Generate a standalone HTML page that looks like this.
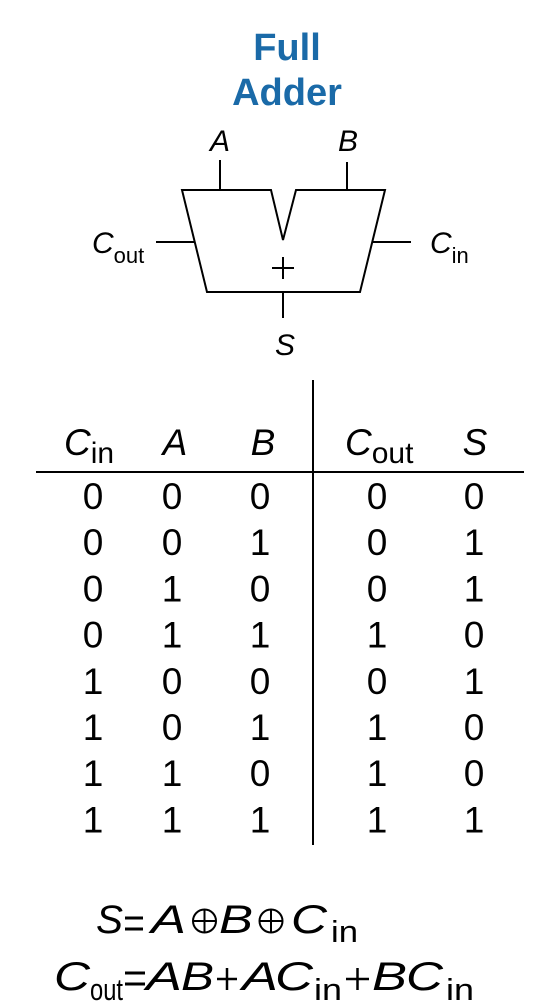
<!DOCTYPE html>
<html><head><meta charset="utf-8"><style>
html,body{margin:0;padding:0;background:#fff;}
svg{display:block;font-family:"Liberation Sans",Arial,sans-serif;}
</style></head><body>
<svg width="546" height="1008" viewBox="0 0 546 1008">
<g fill="#1a6aa8" font-weight="bold" font-size="38" text-anchor="middle">
<text x="287" y="60">Full</text><text x="287" y="105">Adder</text></g>
<g stroke="#000" stroke-width="2" fill="none">
<path d="M182,190 L271,190 L283,240 L296,190 L385,190 L360,292 L207,292 Z"/>
<line x1="220" y1="160" x2="220" y2="190"/><line x1="347" y1="162" x2="347" y2="190"/>
<line x1="156" y1="242" x2="194" y2="242"/><line x1="373" y1="242" x2="411" y2="242"/>
<line x1="283" y1="292" x2="283" y2="318"/>
<line x1="272" y1="268" x2="294" y2="268"/><line x1="283" y1="257" x2="283" y2="279"/></g>
<g font-size="30" font-style="italic">
<text x="220" y="151" text-anchor="middle">A</text><text x="348" y="151" text-anchor="middle">B</text>
<text x="285" y="355" text-anchor="middle">S</text>
<text x="92" y="253">C<tspan font-style="normal" font-size="22" dy="10">out</tspan></text>
<text x="430" y="253">C<tspan font-style="normal" font-size="22" dy="10">in</tspan></text></g>
<g>
<line x1="36" y1="472" x2="524" y2="472" stroke="#000" stroke-width="2"/>
<line x1="313" y1="380" x2="313" y2="845" stroke="#000" stroke-width="2"/>
<g font-size="37" font-style="italic">
<text x="64" y="455">C<tspan font-style="normal" font-size="30" dy="8">in</tspan></text>
<text x="175" y="455" text-anchor="middle">A</text>
<text x="263" y="455" text-anchor="middle">B</text>
<text x="345" y="455">C<tspan font-style="normal" font-size="30" dy="8">out</tspan></text>
<text x="475" y="455" text-anchor="middle">S</text></g>
<g id="rows" font-size="37" text-anchor="middle"></g></g>
<g font-size="40">
<g>
<text x="96" y="933" font-style="italic" textLength="27" lengthAdjust="spacingAndGlyphs">S</text>
<g stroke="#000" stroke-width="3"><line x1="125" y1="918" x2="143" y2="918"/><line x1="125" y1="929" x2="143" y2="929"/></g>
<text x="151" y="933" font-style="italic" textLength="35" lengthAdjust="spacingAndGlyphs">A</text>
<g stroke="#000" stroke-width="2" fill="none"><circle cx="204.5" cy="921" r="11.5"/><line x1="193" y1="921" x2="216" y2="921"/><line x1="204.5" y1="909.5" x2="204.5" y2="932.5"/></g>
<text x="219" y="933" font-style="italic" textLength="34" lengthAdjust="spacingAndGlyphs">B</text>
<g stroke="#000" stroke-width="2" fill="none"><circle cx="271" cy="921" r="11.5"/><line x1="259.5" y1="921" x2="282.5" y2="921"/><line x1="271" y1="909.5" x2="271" y2="932.5"/></g>
<text x="291" y="933" font-style="italic" textLength="36" lengthAdjust="spacingAndGlyphs">C</text>
<text x="331" y="942" font-size="31" textLength="27" lengthAdjust="spacingAndGlyphs">in</text></g>
<g>
<text x="54" y="990" font-style="italic" textLength="36" lengthAdjust="spacingAndGlyphs">C</text>
<text x="90" y="1000" font-size="31" textLength="33" lengthAdjust="spacingAndGlyphs">out</text>
<g stroke="#000" stroke-width="3"><line x1="125" y1="973" x2="145" y2="973"/><line x1="125" y1="984" x2="145" y2="984"/></g>
<text x="146" y="990" font-style="italic" textLength="36" lengthAdjust="spacingAndGlyphs">A</text>
<text x="181" y="990" font-style="italic" textLength="33" lengthAdjust="spacingAndGlyphs">B</text>
<g stroke="#000" stroke-width="2.5"><line x1="217" y1="979" x2="237" y2="979"/><line x1="227" y1="968" x2="227" y2="990"/></g>
<text x="242" y="990" font-style="italic" textLength="36" lengthAdjust="spacingAndGlyphs">A</text>
<text x="275" y="990" font-style="italic" textLength="38" lengthAdjust="spacingAndGlyphs">C</text>
<text x="314" y="1000" font-size="31" textLength="28" lengthAdjust="spacingAndGlyphs">in</text>
<g stroke="#000" stroke-width="2.5"><line x1="346" y1="979" x2="369" y2="979"/><line x1="357.5" y1="968" x2="357.5" y2="990"/></g>
<text x="372" y="990" font-style="italic" textLength="35" lengthAdjust="spacingAndGlyphs">B</text>
<text x="406" y="990" font-style="italic" textLength="37" lengthAdjust="spacingAndGlyphs">C</text>
<text x="446" y="1000" font-size="31" textLength="28" lengthAdjust="spacingAndGlyphs">in</text></g></g>
</svg>
<script>
const cin=[0,0,0,0,1,1,1,1];
const a=[0,0,1,1,0,0,1,1];
const b=[0,1,0,1,0,1,0,1];
const cout=[0,0,0,1,0,1,1,1];
const s=[0,1,1,0,1,0,0,1];
const cols=[[cin,93],[a,172],[b,260],[cout,377],[s,474]];
const g=document.getElementById('rows');
for(let i=0;i<8;i++){
  cols.forEach(([arr,x])=>{
    const t=document.createElementNS('http://www.w3.org/2000/svg','text');
    t.setAttribute('x',x);t.setAttribute('y',509+i*46.2);
    t.textContent=arr[i];
    
    
    g.appendChild(t);
  });
}
</script>
</body></html>
